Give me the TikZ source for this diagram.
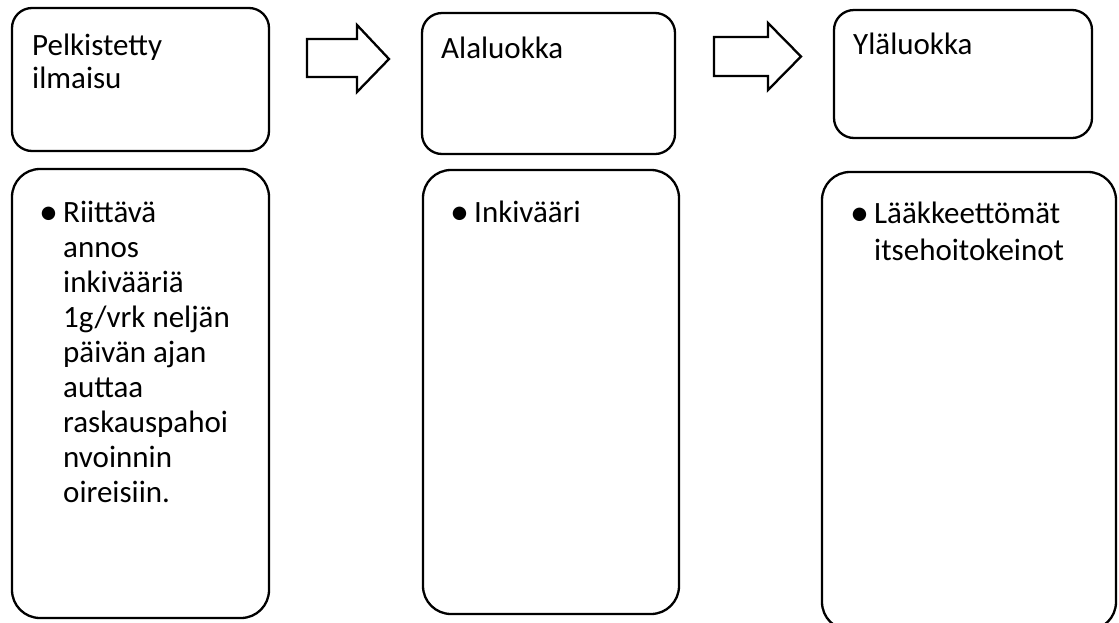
\documentclass[tikz,border=0pt]{standalone}
\usepackage{fontspec}
\setmainfont{Carlito}
% a top-aligned block of text whose baseline is that of its first line
\newcommand\textlines[2]{\parbox[t]{300pt}{\raggedright\fontsize{31}{#1}\selectfont #2}}
\begin{document}
\begin{tikzpicture}[x=1pt,y=-1pt,
  headbox/.style={draw, line width=2.3pt, rounded corners=20pt, inner sep=0pt},
  listbox/.style={draw, line width=2.3pt, rounded corners=28pt, inner sep=0pt},
  blockarrow/.style={draw, line width=2.3pt, fill=white, line join=miter},
  txt/.style={anchor=base west, inner sep=0pt},
  bullet/.style={anchor=base west, inner sep=0pt, font=\fontsize{38}{38}\selectfont}]
\useasboundingbox (0,0) rectangle (1119,622);

% header boxes
\node[headbox, minimum width=257pt, minimum height=143pt] (head1) at (140.5,79.5) {};
\node[headbox, minimum width=253pt, minimum height=141pt] (head2) at (548.5,83.5) {};
\node[headbox, minimum width=258pt, minimum height=128pt] (head3) at (963,74) {};

% list boxes
\node[listbox, minimum width=257pt, minimum height=449pt] (list1) at (140.5,393.5) {};
\node[listbox, minimum width=256pt, minimum height=444pt] (list2) at (551,392) {};
\node[listbox, minimum width=294pt, minimum height=458pt] (list3) at (969,401) {};

% block arrows between the header boxes
\draw[blockarrow] (307,39) -- (357,39) -- (357,25) -- (389,59) -- (357,92) -- (357,77) -- (307,77) -- cycle;
\draw[blockarrow] (714,37) -- (768,37) -- (768,23) -- (801,56.5) -- (768,90) -- (768,76) -- (714,76) -- cycle;

% header texts
\node[txt] (title1) at (32,55) {\textlines{33}{Pelkistetty\\ilmaisu}};
\node[txt] (title2) at (441,58) {\textlines{33}{Alaluokka}};
\node[txt] (title3) at (853,54) {\textlines{33}{Yläluokka}};

% list contents
\node[bullet] (dot1) at (39,224) {\textbullet};
\node[txt] (item1) at (63,222) {\textlines{35}{Riittävä\\annos\\inkivääriä\\1g/vrk neljän\\päivän ajan\\auttaa\\raskauspahoi\\nvoinnin\\oireisiin.}};
\node[bullet] (dot2) at (450,224) {\textbullet};
\node[txt] (item2) at (474,222) {\textlines{35}{Inkivääri}};
\node[bullet] (dot3) at (850,225) {\textbullet};
\node[txt] (item3) at (874,223) {\textlines{37}{Lääkkeettömät\\itsehoitokeinot}};
\end{tikzpicture}
\end{document}
